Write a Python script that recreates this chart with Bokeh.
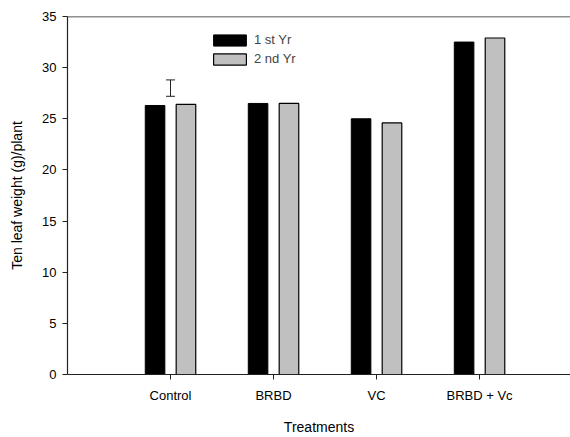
import numpy as np
from bokeh.plotting import figure
from bokeh.models import (Range1d, FixedTicker, Span, Whisker, TeeHead,
                          ColumnDataSource, Legend, LegendItem)
from bokeh.embed import file_html
from bokeh.resources import INLINE

categories = ["Control", "BRBD", "VC", "BRBD + Vc"]
yr1 = [26.3, 26.5, 25.0, 32.5]
yr2 = [26.4, 26.5, 24.6, 32.9]
series_names = ["1 st Yr", "2 nd Yr"]
err_lower = [27.2]
err_upper = [28.8]
y_ticks = [0, 5, 10, 15, 20, 25, 30, 35]

FONT = "Liberation Sans"

p = figure(width=570, height=437, output_backend="svg", toolbar_location=None,
           x_range=Range1d(0, 4.883), y_range=Range1d(0, 35),
           min_border_left=67, min_border_right=0, min_border_top=16,
           min_border_bottom=60)
p.outline_line_color = None
p.xgrid.visible = False
p.ygrid.visible = False
p.background_fill_color = "white"
p.border_fill_color = "white"

xpos = np.arange(1, len(categories) + 1)
src = ColumnDataSource(dict(x1=xpos - 0.15, x2=xpos + 0.15, y1=yr1, y2=yr2))

r1 = p.vbar(x="x1", top="y1", bottom=0, width=0.19, source=src,
            fill_color="black", line_color="black", line_width=1)
r2 = p.vbar(x="x2", top="y2", bottom=0, width=0.19, source=src,
            fill_color="#c0c0c0", line_color="black", line_width=1.2)

esrc = ColumnDataSource(dict(x=[xpos[0]], lo=err_lower, hi=err_upper))
w = Whisker(base="x", lower="lo", upper="hi", source=esrc, line_color="#222222",
            line_width=1,
            upper_head=TeeHead(size=9, line_color="#222222", line_width=1),
            lower_head=TeeHead(size=9, line_color="#222222", line_width=1))
p.add_layout(w)

p.add_layout(Span(location=35, dimension="width", line_color="#222222", line_width=1.5))

# axes
p.xaxis.ticker = FixedTicker(ticks=list(xpos))
p.xaxis.major_label_overrides = {int(i): c for i, c in zip(xpos, categories)}
p.yaxis.ticker = FixedTicker(ticks=y_ticks)
for ax in (p.xaxis[0], p.yaxis[0]):
    ax.axis_line_color = "#222222"
    ax.axis_line_width = 1.2
    ax.major_tick_line_color = "#222222"
    ax.major_tick_out = 5
    ax.major_tick_in = 0
    ax.minor_tick_line_color = None
    ax.major_label_text_font = FONT
    ax.major_label_text_font_size = "13px"
    ax.major_label_text_color = "black"
    ax.axis_label_text_font = FONT
    ax.axis_label_text_font_size = "14px"
    ax.axis_label_text_font_style = "normal"
    ax.axis_label_text_color = "black"

p.xaxis.axis_label = "Treatments"
p.yaxis.axis_label = "Ten leaf weight (g)/plant"
p.yaxis.major_label_standoff = 6
p.xaxis.major_label_standoff = 8
p.yaxis.axis_label_standoff = 14
p.xaxis.axis_label_standoff = 13

legend = Legend(items=[LegendItem(label=series_names[0], renderers=[r1]),
                       LegendItem(label=series_names[1], renderers=[r2])],
                location=(142, 308), orientation="vertical",
                glyph_width=41, glyph_height=14, label_standoff=4,
                spacing=4, padding=0, margin=0,
                label_text_font=FONT, label_text_font_size="13px",
                border_line_color=None, background_fill_alpha=0)
p.add_layout(legend)

open("out.html", "w").write(file_html(p, INLINE))
